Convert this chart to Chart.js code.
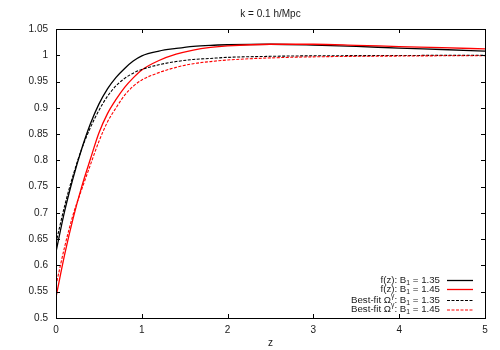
<!DOCTYPE html>
<html><head><meta charset="utf-8">
<script src="https://cdn.jsdelivr.net/npm/chart.js@4.4.0/dist/chart.umd.min.js"></script>
<style>html,body{margin:0;padding:0;background:#fff}#wrap{width:500px;height:350px}</style>
</head><body><div id="wrap"><canvas id="c" width="500" height="350"></canvas></div>
<script>
const titleText = 'k = 0.1 h/Mpc';
const xLabel = 'z';
const zValues = [0, 0.1, 0.2, 0.3, 0.4, 0.5, 0.6, 0.7, 0.8, 0.9, 1.0, 1.2, 1.4, 1.6, 1.8, 2.0, 2.5, 3.0, 3.5, 4.0, 4.5, 5.0];
const fB135 = [0.626, 0.703, 0.767, 0.822, 0.869, 0.907, 0.936, 0.958, 0.975, 0.989, 0.999, 1.008, 1.013, 1.017, 1.019, 1.020, 1.021, 1.0195, 1.017, 1.0135, 1.011, 1.008];
const fB145 = [0.540, 0.620, 0.690, 0.750, 0.802, 0.852, 0.889, 0.916, 0.939, 0.957, 0.972, 0.990, 1.002, 1.010, 1.015, 1.018, 1.021, 1.021, 1.019, 1.0166, 1.0145, 1.012];
const fitB135 = [0.643, 0.713, 0.772, 0.822, 0.862, 0.895, 0.922, 0.942, 0.956, 0.966, 0.973, 0.982, 0.988, 0.992, 0.994, 0.996, 0.998, 0.999, 0.9993, 0.9996, 0.9998, 0.9999];
const fitB145 = [0.562, 0.635, 0.697, 0.745, 0.791, 0.836, 0.873, 0.900, 0.924, 0.941, 0.953, 0.967, 0.977, 0.984, 0.988, 0.991, 0.995, 0.997, 0.998, 0.9985, 0.999, 0.9992];
const xTicks = [0, 1, 2, 3, 4, 5];
const yTicks = [0.5, 0.55, 0.6, 0.65, 0.7, 0.75, 0.8, 0.85, 0.9, 0.95, 1.0, 1.05];
const legendLabels = [
  [['f(z): B', 'n'], ['1', 'sub'], [' = 1.35', 'n']],
  [['f(z): B', 'n'], ['1', 'sub'], [' = 1.45', 'n']],
  [['Best-fit \u03A9', 'n'], ['\u03B3', 'sup'], [': B', 'n'], ['1', 'sub'], [' = 1.35', 'n']],
  [['Best-fit \u03A9', 'n'], ['\u03B3', 'sup'], [': B', 'n'], ['1', 'sub'], [' = 1.45', 'n']]
];
const seriesColors = ['#000000', '#ff0000', '#000000', '#ff0000'];
const seriesDash = [[], [], [3, 1.5], [3, 1.5]];
const seriesValues = [fB135, fB145, fitB135, fitB145];

const FONT = "'Liberation Sans', Arial, sans-serif";
const TXT = '#1a1a1a';

const datasets = seriesValues.map((vals, i) => ({
  label: legendLabels[i].map(s => s[0]).join(''),
  data: zValues.map((z, j) => ({x: z, y: vals[j]})),
  borderColor: seriesColors[i],
  borderDash: seriesDash[i],
  borderWidth: i < 2 ? 1.3 : 1.1,
  pointRadius: 0,
  fill: false,
  cubicInterpolationMode: 'monotone',
  order: 4 - i
}));

const framePlugin = {
  id: 'frame',
  afterDraw(chart) {
    const ctx = chart.ctx;
    const a = chart.chartArea;
    const xs = chart.scales.x, ys = chart.scales.y;
    ctx.save();
    ctx.strokeStyle = '#000';
    ctx.lineWidth = 1;
    ctx.setLineDash([]);
    ctx.strokeRect(Math.round(a.left) + 0.5, Math.round(a.top) + 0.5, Math.round(a.right - a.left), Math.round(a.bottom - a.top));
    const tl = 4;
    ctx.beginPath();
    xTicks.forEach(v => {
      const px = Math.round(xs.getPixelForValue(v)) + 0.5;
      ctx.moveTo(px, a.bottom); ctx.lineTo(px, a.bottom - tl);
      ctx.moveTo(px, a.top); ctx.lineTo(px, a.top + tl);
    });
    yTicks.forEach(v => {
      const py = Math.round(ys.getPixelForValue(v)) + 0.5;
      ctx.moveTo(a.left, py); ctx.lineTo(a.left + tl, py);
      ctx.moveTo(a.right, py); ctx.lineTo(a.right - tl, py);
    });
    ctx.stroke();
    // title
    ctx.fillStyle = TXT;
    ctx.font = '10px ' + FONT;
    ctx.textAlign = 'center';
    ctx.textBaseline = 'middle';
    ctx.fillText(titleText, (a.left + a.right) / 2, 14.5);
    // legend
    const textRight = a.right - 45;
    const sx0 = a.right - 38, sx1 = a.right - 12;
    const rowOffsets = [-38, -29, -18, -8.5];
    const base = '9.7px ', small = '6.8px ';
    legendLabels.forEach((segs, i) => {
      const y = a.bottom + rowOffsets[i];
      let w = 0;
      segs.forEach(s => {
        ctx.font = (s[1] === 'n' ? base : small) + FONT;
        w += ctx.measureText(s[0]).width;
      });
      let x = textRight - w;
      ctx.textAlign = 'left';
      segs.forEach(s => {
        ctx.font = (s[1] === 'n' ? base : small) + FONT;
        const dy = s[1] === 'sub' ? 3 : (s[1] === 'sup' ? -4 : 0);
        ctx.fillText(s[0], x, y + dy);
        x += ctx.measureText(s[0]).width;
      });
      ctx.beginPath();
      ctx.strokeStyle = seriesColors[i];
      ctx.lineWidth = i < 2 ? 1.3 : 1.1;
      ctx.setLineDash(seriesDash[i]);
      ctx.moveTo(sx0, y + 0.5); ctx.lineTo(sx1, y + 0.5);
      ctx.stroke();
    });
    ctx.restore();
  }
};

new Chart(document.getElementById('c'), {
  type: 'line',
  data: {datasets},
  options: {
    responsive: false,
    devicePixelRatio: 1,
    animation: false,
    layout: {padding: {left: 0, right: 15, top: 29, bottom: 0}},
    plugins: {legend: {display: false}, title: {display: false}, tooltip: {enabled: false}},
    scales: {
      x: {
        type: 'linear', min: 0, max: 5,
        grid: {display: false, drawTicks: false},
        border: {display: false},
        afterBuildTicks: s => { s.ticks = xTicks.map(v => ({value: v})); },
        afterFit: s => { s.height = 32; },
        ticks: {color: TXT, font: {family: FONT, size: 10}, padding: 6, maxRotation: 0, callback: v => String(v)},
        title: {display: true, text: xLabel, color: TXT, font: {family: FONT, size: 10}, padding: {top: 0, bottom: 1}}
      },
      y: {
        type: 'linear', min: 0.5, max: 1.05,
        grid: {display: false, drawTicks: false},
        border: {display: false},
        afterBuildTicks: s => { s.ticks = yTicks.map(v => ({value: v})); },
        afterFit: s => { s.width = 56; },
        ticks: {color: TXT, font: {family: FONT, size: 10}, padding: 8, callback: v => String(Number(v.toFixed(2)))}
      }
    }
  },
  plugins: [framePlugin]
});
</script></body></html>
